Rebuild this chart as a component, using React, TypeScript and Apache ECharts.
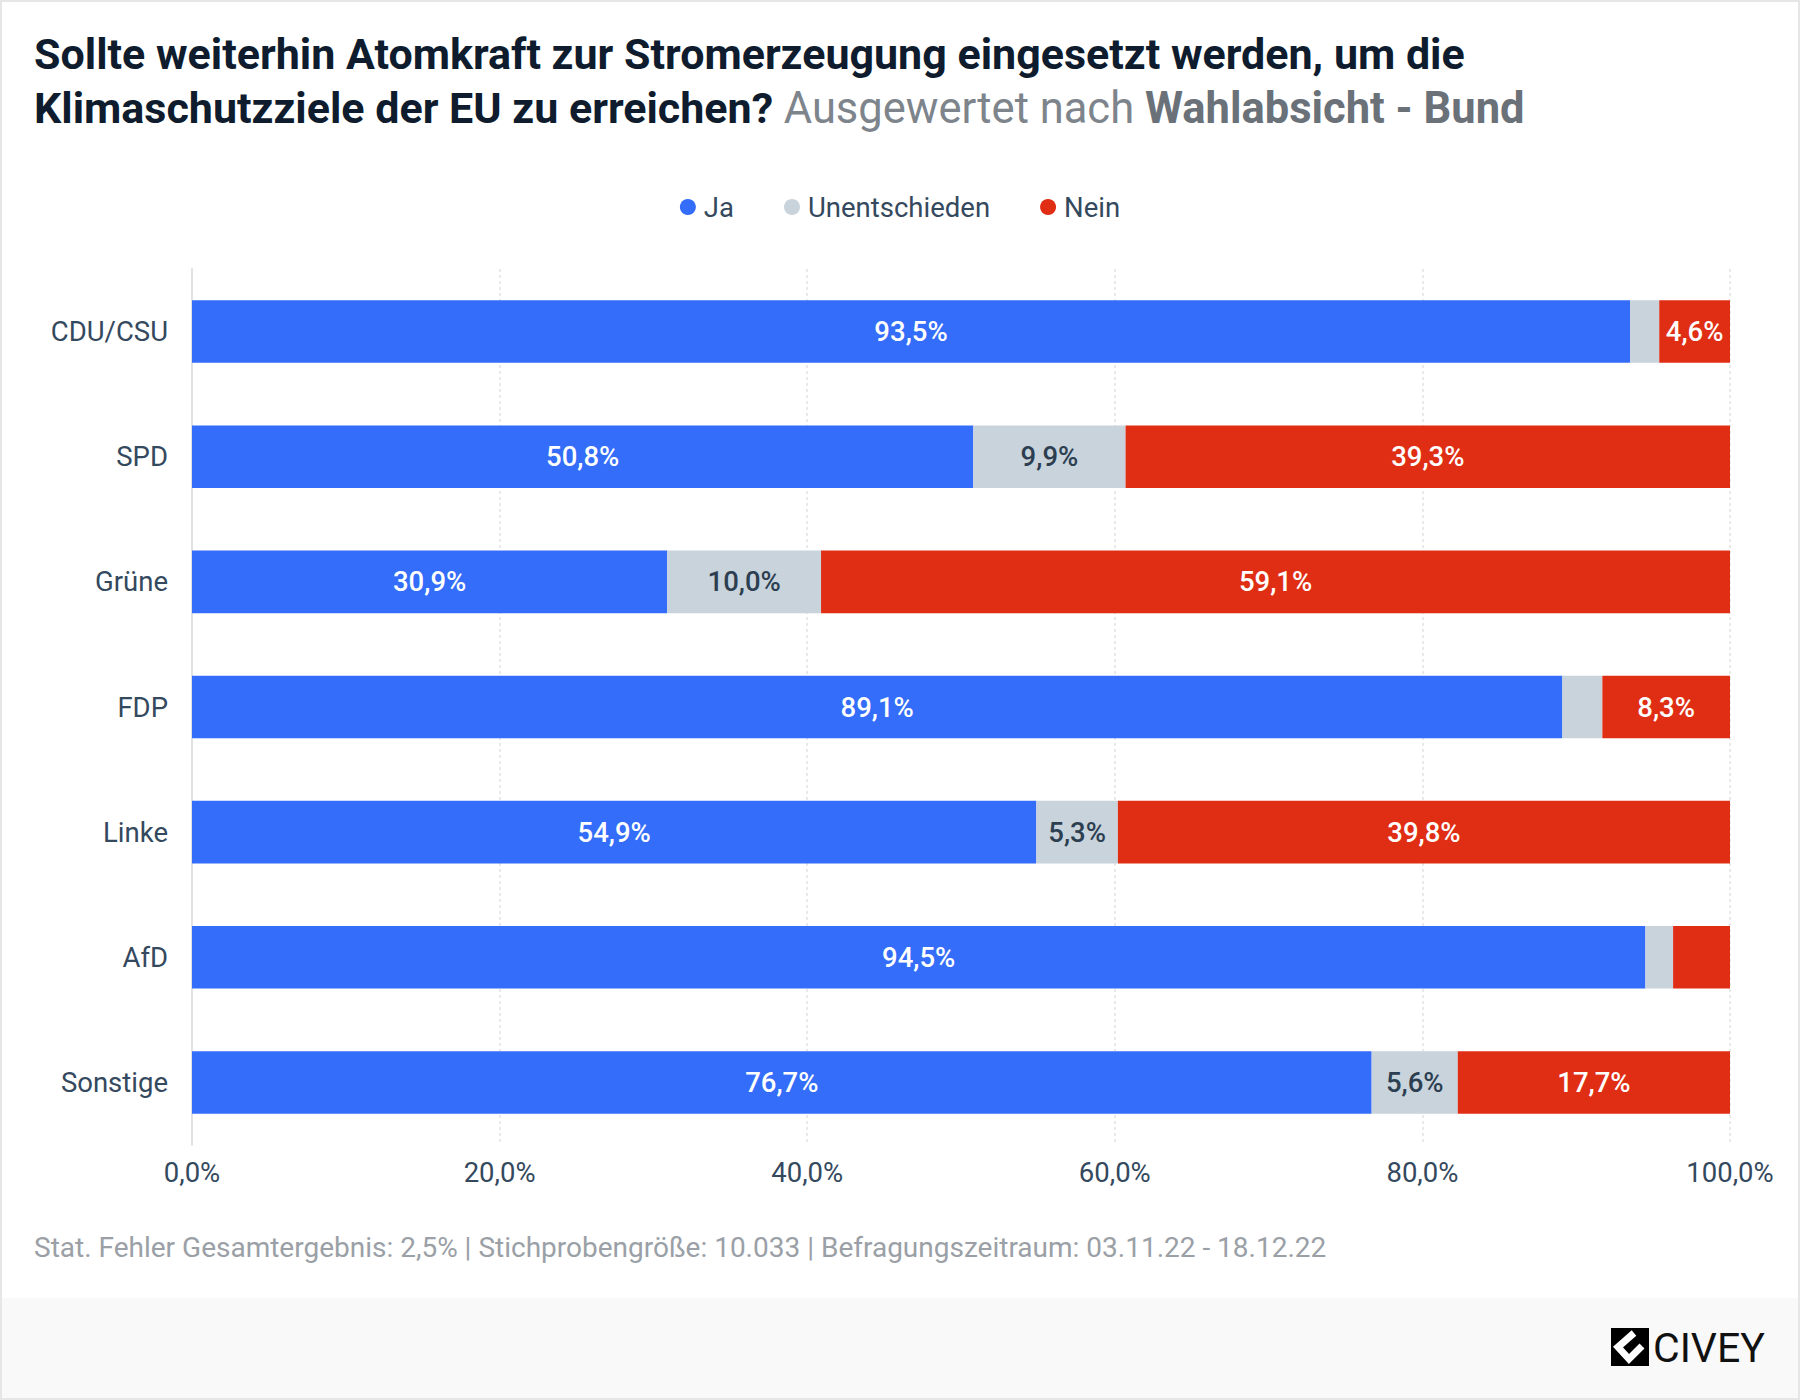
import React, { useEffect, useRef } from "react";
import * as echarts from "echarts";

const categories = ["CDU/CSU", "SPD", "Grüne", "FDP", "Linke", "AfD", "Sonstige"];
const jaValues = [93.5, 50.8, 30.9, 89.1, 54.9, 94.5, 76.7];
const unentschiedenValues = [1.9, 9.9, 10.0, 2.6, 5.3, 1.8, 5.6];
const neinValues = [4.6, 39.3, 59.1, 8.3, 39.8, 3.7, 17.7];
const seriesNames = ["Ja", "Unentschieden", "Nein"];
const seriesColors = ["#336df9", "#c8d3dc", "#e02e15"];
const labelColors = ["#ffffff", "#2c3e50", "#ffffff"];

const titleLine1 = "Sollte weiterhin Atomkraft zur Stromerzeugung eingesetzt werden, um die";
const titleLine2 = "Klimaschutzziele der EU zu erreichen?";
const subtitleLight = "Ausgewertet nach";
const subtitleBold = "Wahlabsicht - Bund";
const footnote =
  "Stat. Fehler Gesamtergebnis: 2,5% | Stichprobengröße: 10.033 | Befragungszeitraum: 03.11.22 - 18.12.22";

const FONT = "Roboto, 'Noto Sans', sans-serif";
const FS = 27.5;

const fmt = (v: number) => v.toFixed(1).replace(".", ",") + "%";

export default function App() {
  const ref = useRef<HTMLDivElement>(null);

  useEffect(() => {
    document.body.style.margin = "0";
    if (!ref.current) return;
    const chart = echarts.init(ref.current, null, { renderer: "svg" });
    const values = [jaValues, unentschiedenValues, neinValues];

    chart.setOption({
      animation: false,
      backgroundColor: "#ffffff",
      textStyle: { fontFamily: FONT },
      title: {
        left: 29,
        top: 22,
        text:
          "{a|" + titleLine1 + "}\n{a|" + titleLine2 + " }{b|" + subtitleLight + " }{c|" + subtitleBold + "}",
        textStyle: {
          rich: {
            a: { fontFamily: FONT, fontSize: 43, fontWeight: 700, color: "#0e1c2e", lineHeight: 54 },
            b: { fontFamily: FONT, fontSize: 43.5, fontWeight: 400, color: "#7d848b", lineHeight: 54 },
            c: { fontFamily: FONT, fontSize: 43.5, fontWeight: 700, color: "#6a7178", lineHeight: 54 },
          },
        },
      },
      legend: {
        left: "center",
        top: 188,
        icon: "circle",
        itemWidth: 16,
        itemHeight: 16,
        itemGap: 50,
        data: seriesNames,
        textStyle: { fontFamily: FONT, fontSize: FS, color: "#34495e", padding: [0, 0, 0, 3] },
      },
      grid: { left: 192, right: 70, top: 269, bottom: 255, containLabel: false },
      xAxis: {
        type: "value",
        min: 0,
        max: 100,
        interval: 20,
        axisLine: { show: false },
        axisTick: { show: false },
        splitLine: { show: true, lineStyle: { type: [3, 3], color: "#e2e2e2", width: 1.5 } },
        axisLabel: {
          formatter: (v: number) => fmt(v),
          fontFamily: FONT,
          fontSize: FS,
          color: "#34495e",
          margin: 13,
        },
      },
      yAxis: {
        type: "category",
        inverse: true,
        data: categories,
        axisLine: { show: true, lineStyle: { color: "#e2e2e2", width: 2 } },
        axisTick: { show: false },
        axisLabel: { fontFamily: FONT, fontSize: FS, color: "#34495e", margin: 24 },
      },
      series: seriesNames.map((name, i) => ({
        name,
        type: "bar",
        stack: "total",
        barWidth: "50%",
        itemStyle: { color: seriesColors[i] },
        emphasis: { disabled: true },
        label: {
          show: true,
          position: "inside",
          fontFamily: FONT,
          fontSize: FS,
          fontWeight: 500,
          color: labelColors[i],
          formatter: (p: any) => (p.value < 4 ? "" : fmt(p.value)),
        },
        data: values[i],
      })),
      graphic: [
        {
          type: "rect",
          z: -10,
          shape: { x: 0, y: 1298, width: 1800, height: 102 },
          style: { fill: "#f9f9f9" },
          silent: true,
        },
        {
          type: "text",
          x: 34,
          y: 1247,
          style: {
            text: footnote,
            font: "400 28px " + FONT,
            fill: "#9aa0a6",
            verticalAlign: "middle",
          },
          silent: true,
        },
        {
          type: "group",
          x: 1611,
          y: 1328,
          silent: true,
          children: [
            { type: "rect", shape: { x: 0, y: 0, width: 38, height: 38 }, style: { fill: "#000000" } },
            {
              type: "polyline",
              shape: { points: [[23, 5], [7, 19], [18, 31], [31, 18]] },
              style: { stroke: "#ffffff", lineWidth: 7, fill: null, lineJoin: "miter" },
            },
            {
              type: "text",
              x: 42,
              y: 20,
              style: {
                text: "CIVEY",
                font: "400 41px " + FONT,
                fill: "#111111",
                verticalAlign: "middle",
              },
            },
          ],
        },
        {
          type: "rect",
          z: 100,
          shape: { x: 1, y: 1, width: 1798, height: 1398 },
          style: { fill: null, stroke: "#e6e6e6", lineWidth: 2 },
          silent: true,
        },
      ],
    });

    return () => chart.dispose();
  }, []);

  return <div ref={ref} style={{ width: 1800, height: 1400 }} />;
}
